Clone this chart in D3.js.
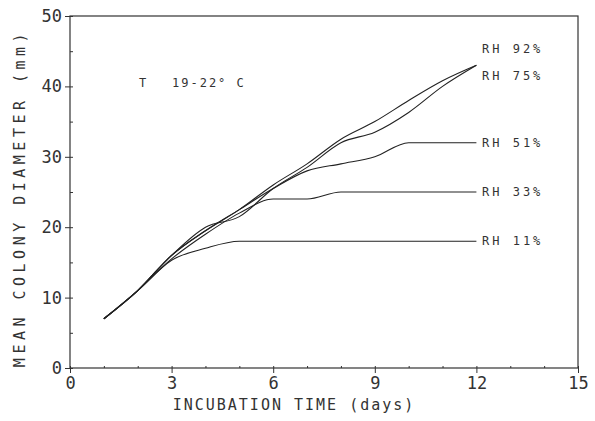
<!DOCTYPE html>
<html>
<head>
<meta charset="utf-8">
<script src="https://cdn.jsdelivr.net/npm/d3@7"></script>
<style>
body{margin:0;background:#fff}
svg text{font-family:"DejaVu Sans Mono",monospace;fill:#333}
</style>
</head>
<body>
<svg id="chart" width="595" height="421"></svg>
<script>
var svg = d3.select("#chart")

// days of incubation
var days = [1,2,3,4,5,6,7,8,9,10,11,12]
// mean colony diameter (mm) per RH level
var rh92 = [7,11,16,19.5,22.5,26,29,32.5,35,38,40.8,43]
var rh75 = [7,11,16,20,21.5,25.5,28.5,32,33.5,36.3,40,43]
var rh51 = [7,11,16,19.5,22.5,25.5,28,29,30,32,32,32]
var rh33 = [7,11,15.5,19,22,24,24,25,25,25,25,25]
var rh11 = [7,11,15.3,17,18,18,18,18,18,18,18,18]
var seriesNames = ['RH 92%','RH 75%','RH 51%','RH 33%','RH 11%']
var labelValues = [45.3,41.5,32,25,18]
var xTicks = [0,3,6,9,12,15]
var yTicks = [0,10,20,30,40,50]

var mLeft = 70, mRight = 578, mTop = 16, mBottom = 368

var x = d3.scaleLinear().domain([0,15]).range([mLeft,mRight])
var y = d3.scaleLinear().domain([0,50]).range([mBottom,mTop])

// frame
svg.append('rect')
    .attr('x', mLeft).attr('y', mTop)
    .attr('width', mRight-mLeft).attr('height', mBottom-mTop)
    .attr('fill', 'none').attr('stroke', '#333').attr('stroke-width', 1.2)

var gx = svg.append('g')
    .attr('transform', `translate(0,${mBottom})`)
    .call(d3.axisBottom(x).tickValues(xTicks).tickSize(5).tickPadding(4).tickFormat(d3.format('d')))
gx.select('.domain').remove()
gx.selectAll('line').attr('stroke','#333')
gx.selectAll('text').attr('font-size', 17).attr('fill','#333')

var gxm = svg.append('g')
    .attr('transform', `translate(0,${mBottom})`)
    .call(d3.axisTop(x).ticks(15).tickSize(2).tickFormat(''))
gxm.select('.domain').remove()
gxm.selectAll('line').attr('stroke','#333')

var gy = svg.append('g')
    .attr('transform', `translate(${mLeft},0)`)
    .call(d3.axisLeft(y).tickValues(yTicks).tickSize(5).tickPadding(3))
gy.select('.domain').remove()
gy.selectAll('line').attr('stroke','#333')
gy.selectAll('text').attr('font-size', 17).attr('fill','#333')

var gym = svg.append('g')
    .attr('transform', `translate(${mLeft},0)`)
    .call(d3.axisRight(y).ticks(10).tickSize(3).tickFormat(''))
gym.select('.domain').remove()
gym.selectAll('line').attr('stroke','#333')

// lines
var allSeries = [rh92, rh75, rh51, rh33, rh11]
var line = d3.line()
    .x((d,i) => x(days[i]))
    .y(d => y(d))
    .curve(d3.curveMonotoneX)

svg.selectAll('.rhLine')
    .data(allSeries)
    .join('path')
    .attr('class','rhLine')
    .attr('d', line)
    .attr('fill','none')
    .attr('stroke','#222')
    .attr('stroke-width',1.1)

svg.selectAll('.rhLabel')
    .data(seriesNames)
    .join('text')
    .attr('class','rhLabel')
    .attr('x', 482)
    .attr('y', (d,i) => y(labelValues[i]))
    .attr('dy','0.35em')
    .attr('font-size', 12)
    .attr('letter-spacing', 3)
    .text(d => d)

svg.append('text').attr('x', 139).attr('y', 83).attr('dy','0.35em')
    .attr('font-size', 12).text('T')
svg.append('text').attr('x', 172).attr('y', 83).attr('dy','0.35em')
    .attr('font-size', 12).attr('letter-spacing', 2).text('19-22° C')

// axis titles
svg.append('text')
    .attr('x', (mLeft+mRight)/2 - 30).attr('y', 410)
    .attr('text-anchor','middle')
    .attr('font-size', 15)
    .attr('letter-spacing', 2)
    .text('INCUBATION TIME (days)')

svg.append('text')
    .attr('transform', 'translate(20,198) rotate(-90)')
    .attr('text-anchor','middle')
    .attr('dy','0.35em')
    .attr('font-size', 15)
    .attr('letter-spacing', 4.5)
    .text('MEAN COLONY DIAMETER (mm)')
</script>
</body>
</html>
